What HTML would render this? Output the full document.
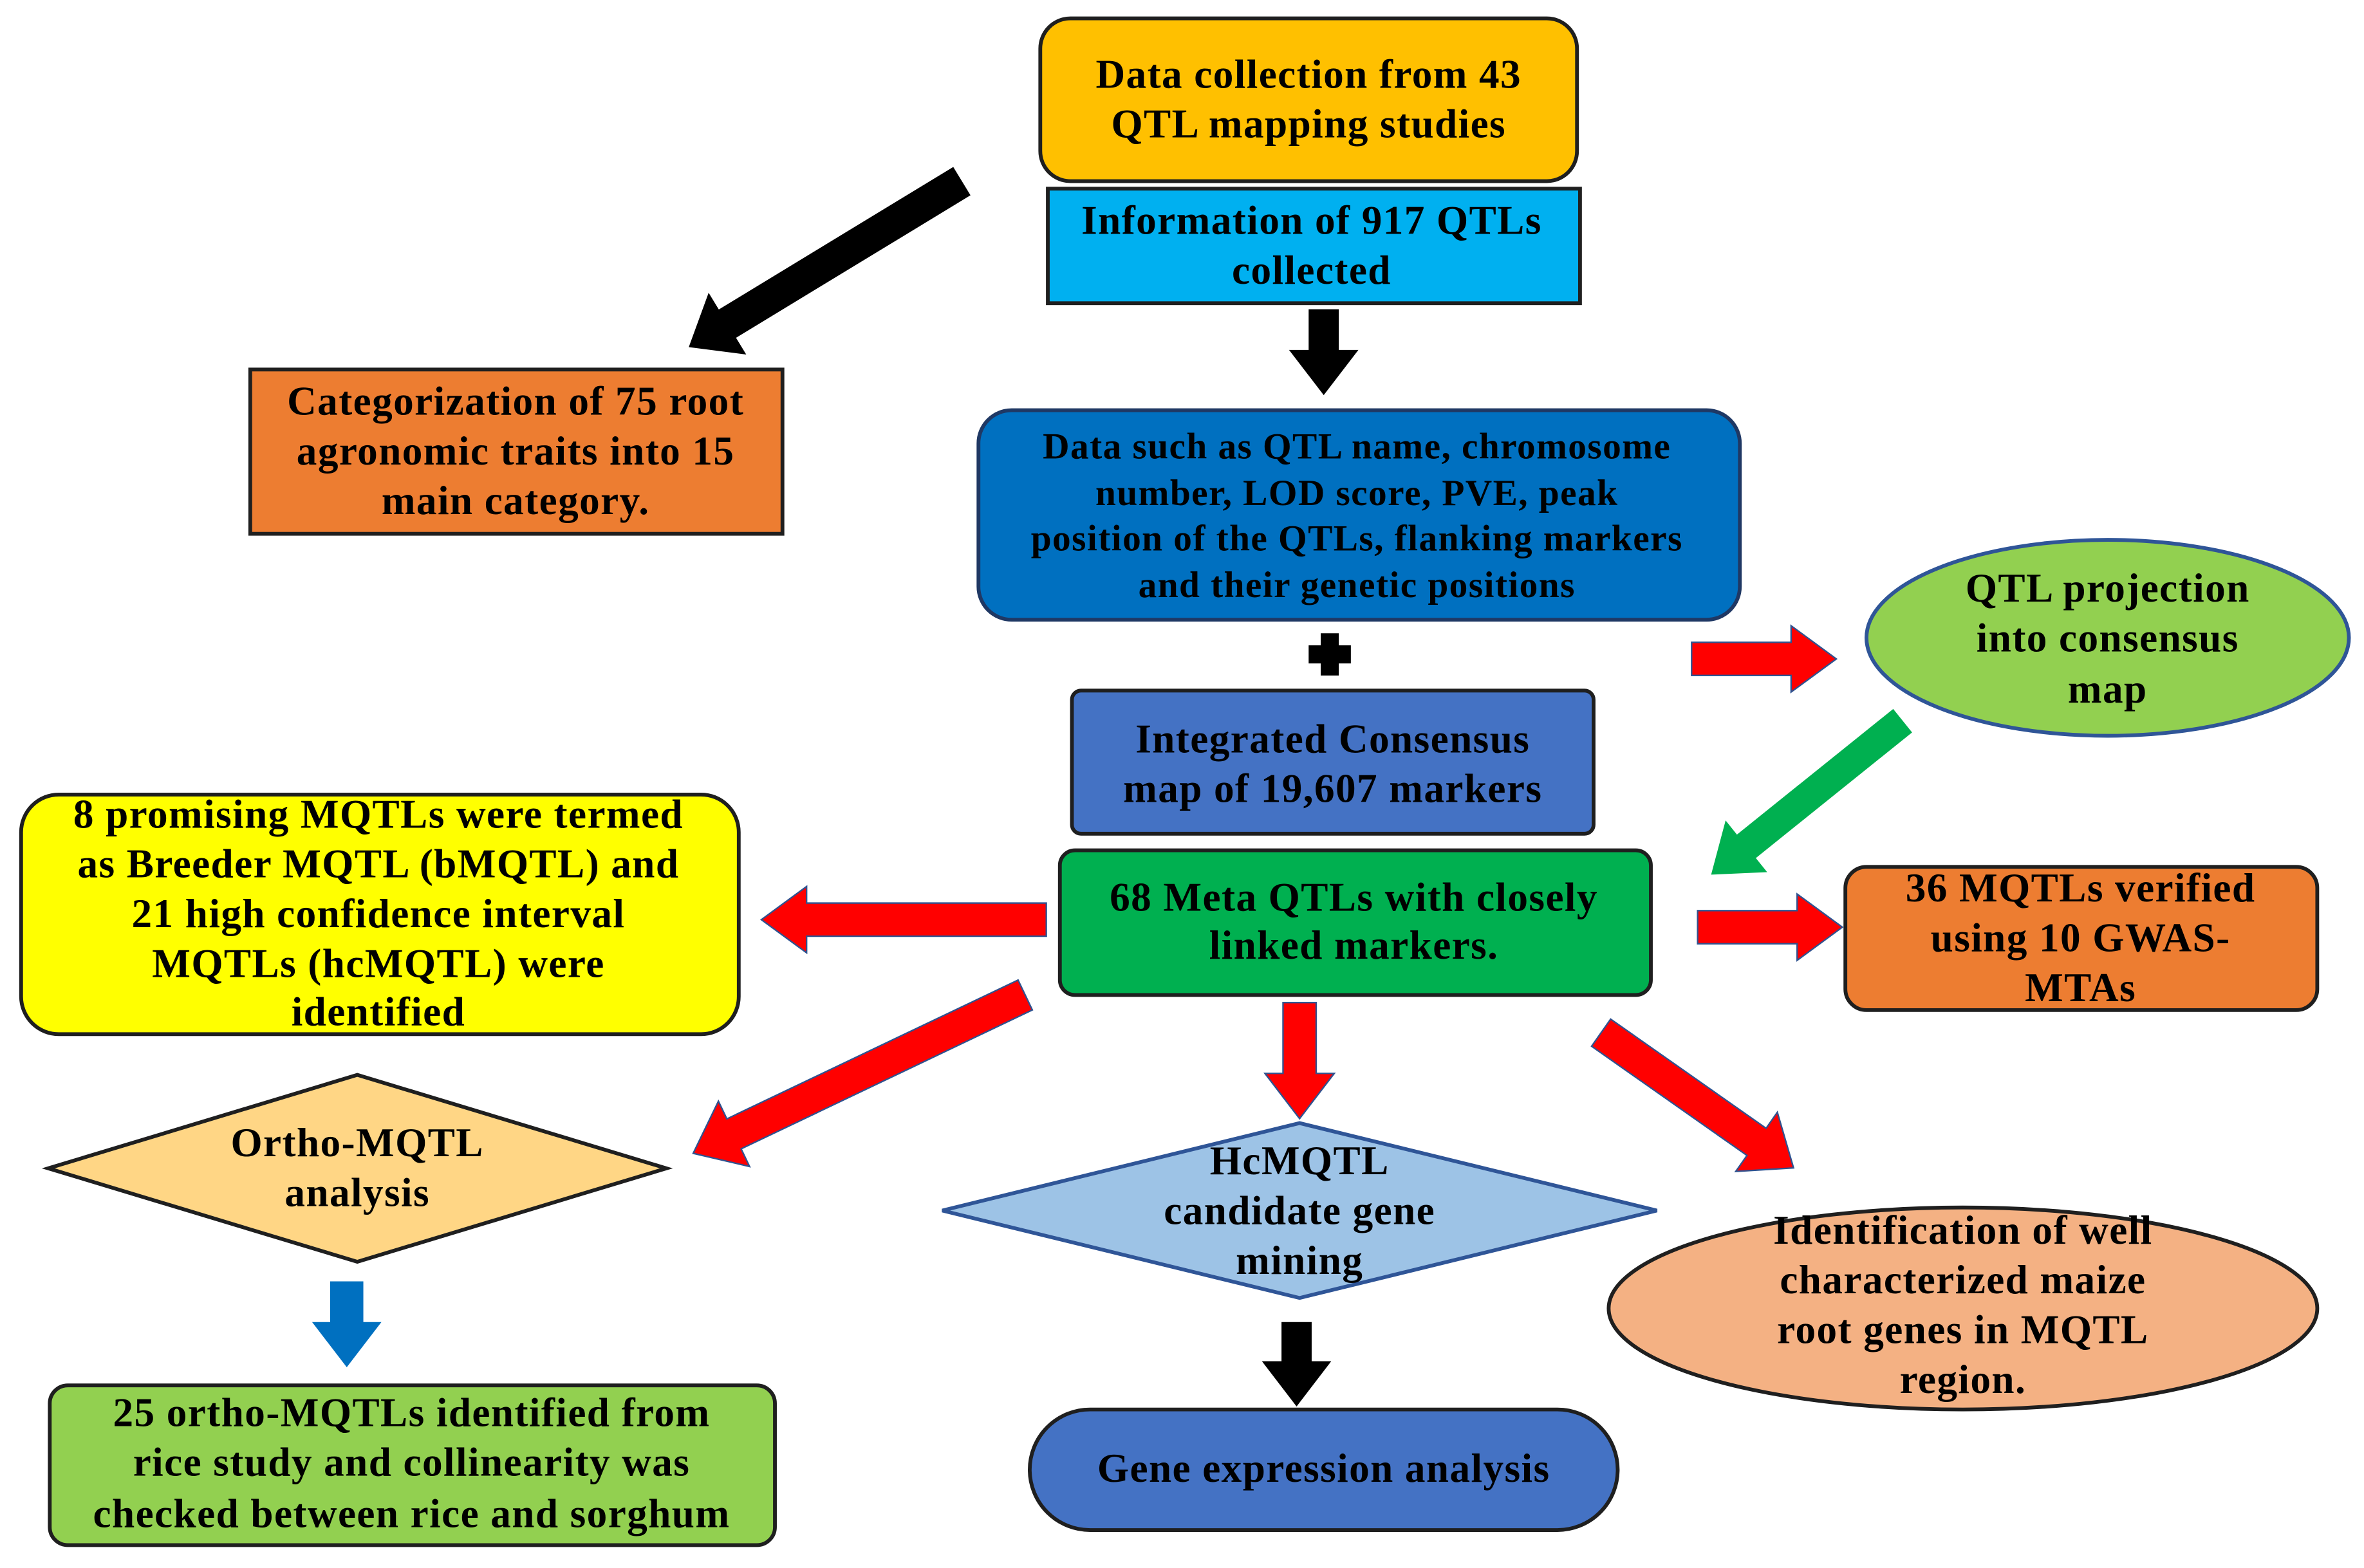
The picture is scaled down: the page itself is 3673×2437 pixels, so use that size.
<!DOCTYPE html>
<html><head><meta charset="utf-8"><style>
html,body{margin:0;padding:0;background:#fff}
svg{display:block}
text{font-family:"Liberation Serif",serif;font-weight:bold;fill:#000;text-anchor:middle;letter-spacing:0.6px}
</style></head><body>
<svg width="3673" height="2437" viewBox="0 0 1568 1040" xmlns="http://www.w3.org/2000/svg">
<g stroke="#1f1f1f" stroke-width="2.5">
<rect x="690" y="12" width="356" height="108" rx="20" fill="#FFC000"/>
<rect x="695" y="125" width="353" height="76" fill="#00B0F0"/>
<rect x="166" y="245" width="353" height="109" fill="#ED7D31"/>
<rect x="649" y="272" width="505" height="139" rx="22" fill="#0070C0" stroke="#1F3864"/>
<ellipse cx="1398" cy="423" rx="160" ry="65" fill="#92D050" stroke="#2F5597"/>
<rect x="711" y="458" width="346" height="95" rx="6" fill="#4472C4"/>
<rect x="703" y="564" width="392" height="96" rx="10" fill="#00B050"/>
<rect x="14" y="527" width="476" height="159" rx="25" fill="#FFFF00"/>
<rect x="1224" y="575" width="313" height="95" rx="14" fill="#ED7D31"/>
<polygon points="32,775 237,713 442,775 237,837" fill="#FFD685"/>
<polygon points="625,803 862,745 1099,803 862,861" fill="#9DC3E6" stroke="#2F5597"/>
<ellipse cx="1302" cy="868" rx="235" ry="67" fill="#F4B183"/>
<rect x="33" y="919" width="481" height="106" rx="12" fill="#92D050"/>
<rect x="683" y="935" width="390" height="80" rx="40" fill="#4472C4"/>
</g>
<g>
<polygon fill="#000" transform="translate(638,120) rotate(148.7)" points="0,-11 182,-11 182,-24 212,0 182,24 182,11 0,11"/>
<polygon fill="#000" transform="translate(878,205) rotate(90)" points="0,-10 27,-10 27,-23 57,0 27,23 27,10 0,10"/>
<polygon fill="#00B050" transform="translate(1262,478) rotate(141.2)" points="0,-10 133,-10 133,-22 163,0 133,22 133,10 0,10"/>
<polygon fill="#FF0000" stroke="#2F528F" stroke-width="1" transform="translate(1122,437) rotate(0)" points="0,-11 66,-11 66,-22 96,0 66,22 66,11 0,11"/>
<polygon fill="#FF0000" stroke="#2F528F" stroke-width="1" transform="translate(694,610) rotate(180)" points="0,-11 159,-11 159,-22 189,0 159,22 159,11 0,11"/>
<polygon fill="#FF0000" stroke="#2F528F" stroke-width="1" transform="translate(1126,615) rotate(0)" points="0,-11 66,-11 66,-22 96,0 66,22 66,11 0,11"/>
<polygon fill="#FF0000" stroke="#2F528F" stroke-width="1" transform="translate(680,660) rotate(154.5)" points="0,-11 214,-11 214,-24 244,0 214,24 214,11 0,11"/>
<polygon fill="#FF0000" stroke="#2F528F" stroke-width="1" transform="translate(862,665) rotate(90)" points="0,-11 47,-11 47,-23 77,0 47,23 47,11 0,11"/>
<polygon fill="#FF0000" stroke="#2F528F" stroke-width="1" transform="translate(1062,685) rotate(35.1)" points="0,-11 126,-11 126,-24 156,0 126,24 126,11 0,11"/>
<polygon fill="#0070C0" transform="translate(230,850) rotate(90)" points="0,-11 27,-11 27,-23 57,0 27,23 27,11 0,11"/>
<polygon fill="#000" transform="translate(860,877) rotate(90)" points="0,-10 26,-10 26,-23 56,0 26,23 26,10 0,10"/>
<path d="M876,420h12v8h8v12h-8v8h-12v-8h-8v-12h8z" fill="#000"/>
</g>
<g font-size="27">
<text x="868" y="58">Data collection from 43</text>
<text x="868" y="91">QTL mapping studies</text>
<text x="870" y="155">Information of 917 QTLs</text>
<text x="870" y="188">collected</text>
<text x="342" y="275">Categorization of 75 root</text>
<text x="342" y="308">agronomic traits into 15</text>
<text x="342" y="341">main category.</text>
</g>
<g font-size="24.5">
<text x="900" y="304">Data such as QTL name, chromosome</text>
<text x="900" y="335">number, LOD score, PVE, peak</text>
<text x="900" y="365">position of the QTLs, flanking markers</text>
<text x="900" y="396">and their genetic positions</text>
</g>
<g font-size="27">
<text x="1398" y="399">QTL projection</text>
<text x="1398" y="432">into consensus</text>
<text x="1398" y="466">map</text>
<text x="884" y="499">Integrated Consensus</text>
<text x="884" y="532">map of 19,607 markers</text>
<text x="898" y="604">68 Meta QTLs with closely</text>
<text x="898" y="636">linked markers.</text>
<text x="251" y="549">8 promising MQTLs were termed</text>
<text x="251" y="582">as Breeder MQTL (bMQTL) and</text>
<text x="251" y="615">21 high confidence interval</text>
<text x="251" y="648">MQTLs (hcMQTL) were</text>
<text x="251" y="680">identified</text>
<text x="1380" y="598">36 MQTLs verified</text>
<text x="1380" y="631">using 10 GWAS-</text>
<text x="1380" y="664">MTAs</text>
<text x="237" y="767">Ortho-MQTL</text>
<text x="237" y="800">analysis</text>
<text x="862" y="779">HcMQTL</text>
<text x="862" y="812">candidate gene</text>
<text x="862" y="845">mining</text>
<text x="1302" y="825">Identification of well</text>
<text x="1302" y="858">characterized maize</text>
<text x="1302" y="891">root genes in MQTL</text>
<text x="1302" y="924">region.</text>
<text x="273" y="946">25 ortho-MQTLs identified from</text>
<text x="273" y="979">rice study and collinearity was</text>
<text x="273" y="1013">checked between rice and sorghum</text>
<text x="878" y="983">Gene expression analysis</text>
</g>
</svg>
</body></html>
